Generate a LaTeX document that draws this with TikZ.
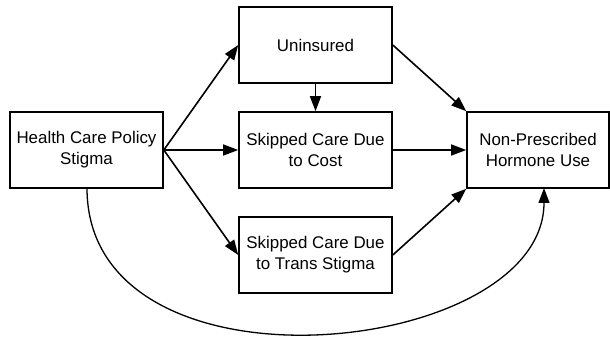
\documentclass[tikz,border=0pt]{standalone}
\usepackage{fontspec}
\setmainfont{Liberation Sans}
\usetikzlibrary{arrows.meta}
\begin{document}
\begin{tikzpicture}[x=1pt,y=-1pt,
  box/.style={draw=black,line width=1.6pt,minimum width=153pt,minimum height=76pt,align=center,inner sep=0pt,
    font=\fontsize{16.9}{21}\selectfont},
  arr/.style={line width=1.6pt,-{Triangle[length=15pt,width=11pt]}}]
\useasboundingbox (0,0) rectangle (610,339);
\node[box] (hc) at (86.5,150) {Health Care Policy\\Stigma};
\node[box] (un) at (315.5,45) {Uninsured};
\node[box] (sc) at (315.5,150) {Skipped Care Due\\to Cost};
\node[box] (ss) at (315.5,255) {Skipped Care Due\\to Trans Stigma};
\node[box,minimum width=142pt] (np) at (538,150) {Non-Prescribed\\Hormone Use};
\coordinate (hcb) at (87,188);
\coordinate (npb) at (544,188);
\draw[arr] (hc.east) -- (un.west);
\draw[arr] (hc.east) -- (sc.west);
\draw[arr] (hc.east) -- (ss.west);
\draw[arr] (un.south) -- (sc.north);
\draw[arr] (un.east) -- (np.north west);
\draw[arr] (sc.east) -- (np.west);
\draw[arr] (ss.east) -- (np.south west);
\draw[arr,line width=1.3pt] (hcb) .. controls (87,405) and (544,358) .. (npb);
\end{tikzpicture}
\end{document}
